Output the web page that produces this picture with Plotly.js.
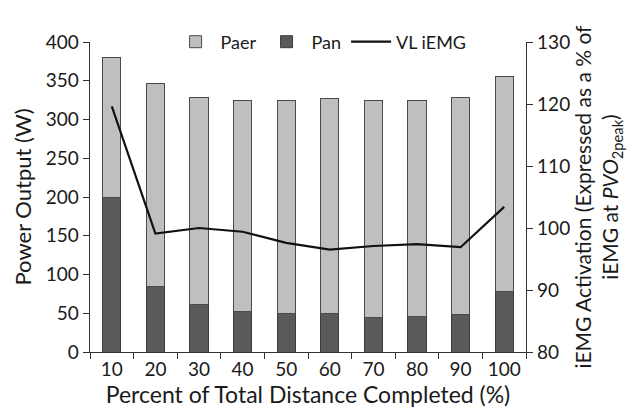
<!DOCTYPE html>
<html>
<head>
<meta charset="utf-8">
<script src="https://cdn.plot.ly/plotly-3.0.1.min.js"></script>
<style>html,body{margin:0;padding:0;background:#fff;}#chart{width:644px;height:408px;}</style>
</head>
<body>
<div id="chart"></div>
<script>
const categories = ["10","20","30","40","50","60","70","80","90","100"];
const totalPower = [380, 346, 328, 325, 325, 327, 324, 324, 328, 356];
const panValues = [200, 85, 61, 52, 50, 50, 45, 46, 48, 78];
const paerValues = totalPower.map((t, i) => t - panValues[i]);
const iemgValues = [119.6, 99.1, 100.0, 99.4, 97.6, 96.5, 97.1, 97.4, 96.9, 103.4];

const FONT = "Lato, 'Open Sans', sans-serif";

const traces = [
  {
    type: "bar", name: "Pan", x: categories, y: panValues, legendrank: 2,
    marker: {color: "#5a5a5a", line: {color: "#3c3c3c", width: 1}}
  },
  {
    type: "bar", name: "Paer", x: categories, y: paerValues, legendrank: 1,
    marker: {color: "#bfbfbf", line: {color: "#4a4a4a", width: 1}}
  },
  {
    type: "scatter", mode: "lines", name: "VL iEMG", x: categories, y: iemgValues, legendrank: 3,
    yaxis: "y2", line: {color: "#111", width: 2.2}
  }
];

const layout = {
  width: 644, height: 408,
  margin: {l: 90, r: 118, t: 42, b: 56},
  paper_bgcolor: "#fff", plot_bgcolor: "#fff",
  font: {family: FONT, size: 19, color: "#1a1a1a"},
  barmode: "stack",
  bargap: 0.58,
  showlegend: true,
  legend: {
    orientation: "h", x: 0.53, xanchor: "center", y: 1.0, yanchor: "middle",
    bgcolor: "rgba(0,0,0,0)", font: {family: FONT, size: 18},
    traceorder: "normal", itemwidth: 40
  },
  xaxis: {
    type: "category",
    showline: true, linecolor: "#333", linewidth: 1.3,
    ticks: "outside", ticklen: 6, tickcolor: "#333", tickson: "boundaries",
    showgrid: false, zeroline: false,
    tickfont: {family: FONT, size: 19},
    title: {text: "Percent of Total Distance Completed (%)", font: {family: FONT, size: 23}, standoff: 2}
  },
  yaxis: {
    range: [0, 400], dtick: 50,
    showline: true, linecolor: "#333", linewidth: 1.3,
    ticks: "outside", ticklen: 6, tickcolor: "#333",
    showgrid: false, zeroline: false,
    tickfont: {family: FONT, size: 19},
    title: {text: "Power Output (W)", font: {family: FONT, size: 22}, standoff: 8}
  },
  yaxis2: {
    overlaying: "y", side: "right",
    range: [80, 130], dtick: 10,
    showline: true, linecolor: "#333", linewidth: 1.3,
    ticks: "outside", ticklen: 6, tickcolor: "#333",
    showgrid: false, zeroline: false,
    tickfont: {family: FONT, size: 19},
    title: {text: "iEMG Activation (Expressed as a % of<br>iEMG at <i>PVO</i><sub>2peak</sub>)", font: {family: FONT, size: 21}, standoff: 6}
  }
};

Plotly.newPlot("chart", traces, layout, {displayModeBar: false, staticPlot: true});
</script>
</body>
</html>
